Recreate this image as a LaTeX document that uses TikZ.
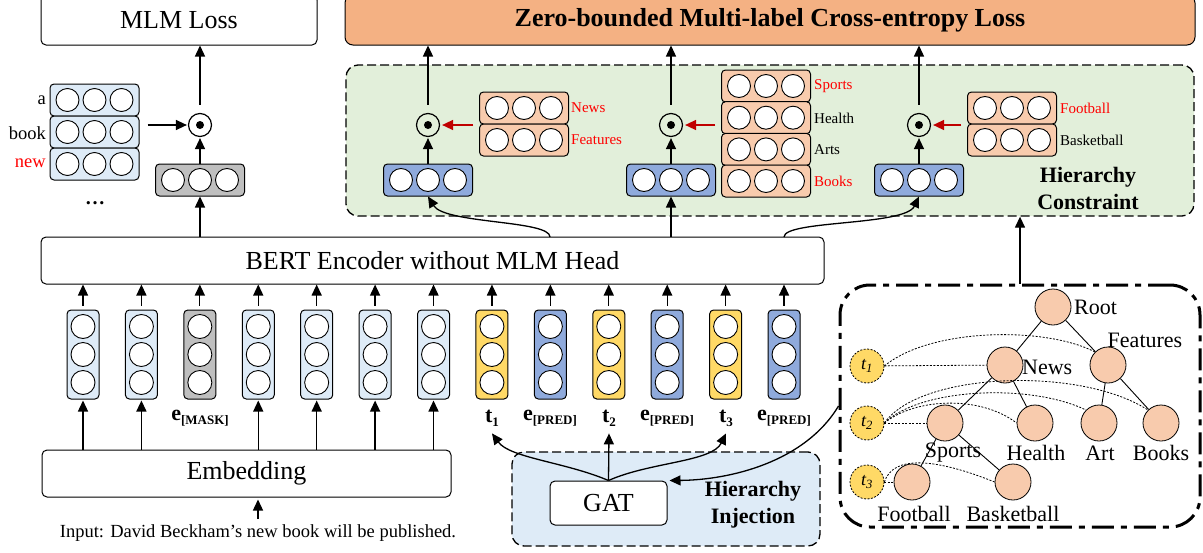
\documentclass[tikz,border=0pt]{standalone}
\usepackage{fontspec}
\setmainfont{Liberation Serif}
\usetikzlibrary{arrows.meta}
\definecolor{lblue}{HTML}{DEEBF7}
\definecolor{dblue}{HTML}{8FAADC}
\definecolor{yel}{HTML}{FFD966}
\definecolor{lorange}{HTML}{F8CBAD}
\definecolor{lossc}{HTML}{F4B183}
\definecolor{lgreen}{HTML}{E2EFDA}
\definecolor{gry}{HTML}{BFBFBF}
\definecolor{darkred}{HTML}{C00000}
\newcommand\fsz[2]{\fontsize{#1}{#2}\selectfont}
\newcommand\hvec[4]{%
  \node[vecbox, fill=#4, minimum width=89pt, minimum height=32pt] (#1) at (#2,#3) {};
  \foreach \d in {-27,0,27}{\draw[cell] (#1.center) ++(\d,0) circle (11.5pt);}%
}
\newcommand\vvec[4]{%
  \node[vecbox, fill=#4, minimum width=32pt, minimum height=89pt] (#1) at (#2,#3) {};
  \foreach \d in {-28,0,28}{\draw[cell] (#1.center) ++(0,\d) circle (12pt);}%
}
\newcommand\odotnode[3]{%
  \node[odotc] (#1) at (#2,#3) {};
  \fill (#1.center) circle (4pt);%
}
\begin{document}
\begin{tikzpicture}[x=1pt,y=-1pt,
  vecbox/.style={draw, rounded corners=4pt, line width=1pt, inner sep=0pt},
  cell/.style={draw, fill=white, line width=0.9pt},
  odotc/.style={circle, draw, line width=1.2pt, minimum size=23pt, inner sep=0pt},
  bigbox/.style={draw, rounded corners=5pt, line width=1pt, inner sep=0pt, fill=white},
  arr/.style={-{Triangle[length=11pt,width=10pt]}, line width=1.3pt},
  rarr/.style={-{Triangle[length=11pt,width=10pt]}, line width=1.5pt, draw=darkred, fill=darkred},
  tnode/.style={circle, draw, fill=lorange, line width=0.8pt, minimum size=36pt, inner sep=0pt},
  ynode/.style={circle, draw, fill=yel, line width=0.8pt, dash pattern=on 2pt off 1.5pt, minimum size=34pt, inner sep=0pt, font=\fsz{18}{18}\itshape},
  tedge/.style={line width=0.9pt},
  dotl/.style={line width=0.8pt, dash pattern=on 2pt off 1.5pt},
  tlab/.style={font=\fsz{22}{22}, inner sep=0pt},
  slab/.style={font=\fsz{15}{15}, inner sep=0pt, anchor=west},
  blab/.style={font=\fsz{22}{27}\bfseries, align=center, inner sep=0pt},
]
\useasboundingbox (0,0) rectangle (1203,552);

% ---------------- big boxes ----------------
\node[bigbox, minimum width=276pt, minimum height=50pt, font=\fsz{26}{30}] (mlm) at (179,20) {MLM Loss};
\node[bigbox, fill=lossc, rounded corners=8pt, minimum width=850pt, minimum height=50pt, font=\fsz{26}{30}\bfseries] (loss) at (770,20) {Zero-bounded Multi-label Cross-entropy Loss};
\node[draw, fill=lgreen, rounded corners=12pt, line width=1.3pt, dash pattern=on 9pt off 4pt, minimum width=848pt, minimum height=151pt, inner sep=0pt] (green) at (770,140.5) {};
\node[bigbox, minimum width=783pt, minimum height=47pt, font=\fsz{26}{30}] (bert) at (432.5,260.5) {BERT Encoder without MLM Head};
\node[bigbox, minimum width=409pt, minimum height=47pt, font=\fsz{26}{30}] (emb) at (246.5,473.5) {Embedding};
\node[draw, fill=lblue, rounded corners=12pt, line width=1.3pt, dash pattern=on 9pt off 4pt, minimum width=308pt, minimum height=94pt, inner sep=0pt] (inj) at (666,499) {};
\node[bigbox, minimum width=117pt, minimum height=44pt, font=\fsz{26}{30}] (gat) at (608.5,503) {GAT};
\node[blab] (injl) at (753,505) {Hierarchy\\Injection};
\node[draw, rounded corners=30pt, line width=3pt, dash pattern=on 22pt off 7pt on 6pt off 7pt, minimum width=360pt, minimum height=242pt, inner sep=0pt] (tree) at (1020,406) {};

% ---------------- MLM side ----------------
\hvec{m1}{94.5}{100}{lblue}
\hvec{m2}{94.5}{132}{lblue}
\hvec{m3}{94.5}{164}{lblue}
\node[font=\fsz{18.5}{20}, anchor=east, inner sep=0pt] (la) at (46,100) {a};
\node[font=\fsz{18.5}{20}, anchor=east, inner sep=0pt] (lb) at (46,133) {book};
\node[font=\fsz{18.5}{20}, anchor=east, inner sep=0pt, text=red] (lc) at (46,163) {new};
\node[font=\fsz{20}{20}\bfseries, inner sep=0pt] (dots) at (95,203) {\ldots};
\hvec{g0}{200}{180}{gry}
\odotnode{od0}{200}{125}
\draw[arr, shorten <=8pt, shorten >=1pt] (od0 -| m2.east) -- (od0.west);
\draw[arr, shorten >=1pt] (g0.north) -- (od0.south);
\draw[arr, shorten <=8pt] (od0.north) -- (od0.north |- mlm.south);
\draw[arr] (bert.north -| g0.south) -- (g0.south);

% ---------------- hierarchy constraint ----------------
\hvec{b1}{428}{180}{dblue}
\hvec{b2}{671}{180}{dblue}
\hvec{b3}{919}{180}{dblue}
\odotnode{od1}{428}{125}
\odotnode{od2}{671}{125}
\odotnode{od3}{919}{125}
\hvec{s1a}{524}{108}{lorange}
\hvec{s1b}{524}{140}{lorange}
\hvec{s2a}{766}{86}{lorange}
\hvec{s2b}{766}{117.7}{lorange}
\hvec{s2c}{766}{149.4}{lorange}
\hvec{s2d}{766}{181}{lorange}
\hvec{s3a}{1012}{108}{lorange}
\hvec{s3b}{1012}{140}{lorange}
\node[slab, text=red] (ls1a) at (571,108) {News};
\node[slab, text=red] (ls1b) at (571,140) {Features};
\node[slab, text=red] (ls2a) at (814,86) {Sports};
\node[slab] (ls2b) at (814,118) {Health};
\node[slab] (ls2c) at (814,150) {Arts};
\node[slab, text=red] (ls2d) at (814,181) {Books};
\node[slab, text=red] (ls3a) at (1060,108) {Football};
\node[slab] (ls3b) at (1060,140) {Basketball};
\node[blab] (hcl) at (1088,188) {Hierarchy\\Constraint};
\foreach \k in {1,2,3}{
  \draw[arr, shorten >=1pt] (b\k.north) -- (od\k.south);
  \draw[arr, shorten <=8pt] (od\k.north) -- (od\k.north |- loss.south);
}
\draw[rarr, shorten <=6pt, shorten >=2pt] (od1 -| s1a.west) -- (od1.east);
\draw[rarr, shorten <=6pt, shorten >=2pt] (od2 -| s2a.west) -- (od2.east);
\draw[rarr, shorten <=6pt, shorten >=2pt] (od3 -| s3a.west) -- (od3.east);

% BERT -> constraint
\coordinate (bq1) at (550,237);
\coordinate (bq3) at (784,237);
\draw[arr] (bq1) .. controls (550,220) and (445,224) .. (b1.south);
\draw[arr] (bert.north -| b2.south) -- (b2.south);
\draw[arr] (bq3) .. controls (784,220) and (905,226) .. (b3.south);

% ---------------- token columns ----------------
\foreach \i/\c in {1/lblue,2/lblue,3/gry,4/lblue,5/lblue,6/lblue,7/lblue,8/yel,9/dblue,10/yel,11/dblue,12/yel,13/dblue}{
  \pgfmathsetmacro\xx{83+58.42*(\i-1)}
  \vvec{c\i}{\xx}{354.5}{\c}
  \draw[arr, shorten <=4pt] (c\i.north) -- (c\i.north |- bert.south);
}
\foreach \i in {1,2,4,5,6,7}{
  \draw[arr, shorten >=1pt] (c\i.south |- emb.north) -- (c\i.south);
}
\newcommand\elab[1]{{\fsz{22}{22}\bfseries e}\raisebox{-4pt}{\fsz{13}{13}\bfseries [#1]}}
\newcommand\tlabx[1]{{\fsz{22}{22}\bfseries t}\raisebox{-4pt}{\fsz{13}{13}\bfseries #1}}
\node[inner sep=0pt] (l3) at (200,418) {\elab{MASK}};
\node[inner sep=0pt] (l8) at (492,418) {\tlabx{1}};
\node[inner sep=0pt] (l9) at (550,418) {\elab{PRED}};
\node[inner sep=0pt] (l10) at (609,418) {\tlabx{2}};
\node[inner sep=0pt] (l11) at (667,418) {\elab{PRED}};
\node[inner sep=0pt] (l12) at (726,418) {\tlabx{3}};
\node[inner sep=0pt] (l13) at (784,418) {\elab{PRED}};

% input
\node[font=\fsz{18.5}{20}, inner sep=0pt] (inp) at (258,533) {Input: David Beckham’s new book will be published.};
\coordinate (ib) at (258,519);
\draw[arr, shorten >=2pt] (ib) -- (ib |- emb.south);

% GAT arrows
\draw[arr] (gat.north) .. controls (565,462) and (510,458) .. ([yshift=-7pt]l8.south);
\draw[arr] (gat.north) -- ([yshift=-7pt]l10.south);
\draw[arr] (gat.north) .. controls (650,462) and (712,462) .. ([yshift=-7pt]l12.south);
\draw[arr, shorten >=2pt] (tree.west) .. controls (805,462) and (730,480) .. (gat.north east);

% ---------------- tree ----------------
\node[tnode] (root) at (1053,307) {};
\node[tnode] (news) at (1005,365) {};
\node[tnode] (feat) at (1108,365) {};
\node[tnode] (sports) at (945,423) {};
\node[tnode] (health) at (1035,423) {};
\node[tnode] (art) at (1099,423) {};
\node[tnode] (books) at (1161,423) {};
\node[tnode] (football) at (912,482) {};
\node[tnode] (basket) at (1013,482) {};
\node[ynode] (t1) at (867,366) {t\textsubscript{1}};
\node[ynode] (t2) at (867,423) {t\textsubscript{2}};
\node[ynode] (t3) at (867,482) {t\textsubscript{3}};
\draw[tedge] (root) -- (news);
\draw[tedge] (root) -- (feat);
\draw[tedge] (news) -- (sports);
\draw[tedge] (news) -- (health);
\draw[tedge] (feat) -- (art);
\draw[tedge] (feat) -- (books);
\draw[tedge] (sports) -- (football);
\draw[tedge] (sports) -- (basket);
\draw[dotl] (t1) -- (news);
\draw[dotl] (t1.east) .. controls (930,328) and (1045,326) .. (feat.north west);
\draw[dotl] (t2) -- (sports);
\draw[dotl] (t2.east) .. controls (915,398) and (980,395) .. (health.west);
\draw[dotl] (t2.east) .. controls (920,388) and (1030,383) .. (art.north west);
\draw[dotl] (t2.east) .. controls (920,372) and (1080,366) .. (books.north west);
\draw[dotl] (t3) -- (football);
\draw[dotl] (t3.east) .. controls (893,455) and (935,458) .. (basket.west);
\node[tlab, anchor=west] (lroot) at (1074,307) {Root};
\node[tlab, anchor=west] (lnews) at (1022,367) {News};
\node[tlab] (lfeat) at (1145,340) {Features};
\node[tlab] (lsports) at (953,453) {Sports};
\node[tlab] (lhealth) at (1036,453) {Health};
\node[tlab] (lart) at (1100,453) {Art};
\node[tlab] (lbooks) at (1161,453) {Books};
\node[tlab] (lfootball) at (914,514) {Football};
\node[tlab] (lbasket) at (1013,514) {Basketball};
\draw[arr] (tree.north) -- (tree.north |- green.south);
\end{tikzpicture}
\end{document}
